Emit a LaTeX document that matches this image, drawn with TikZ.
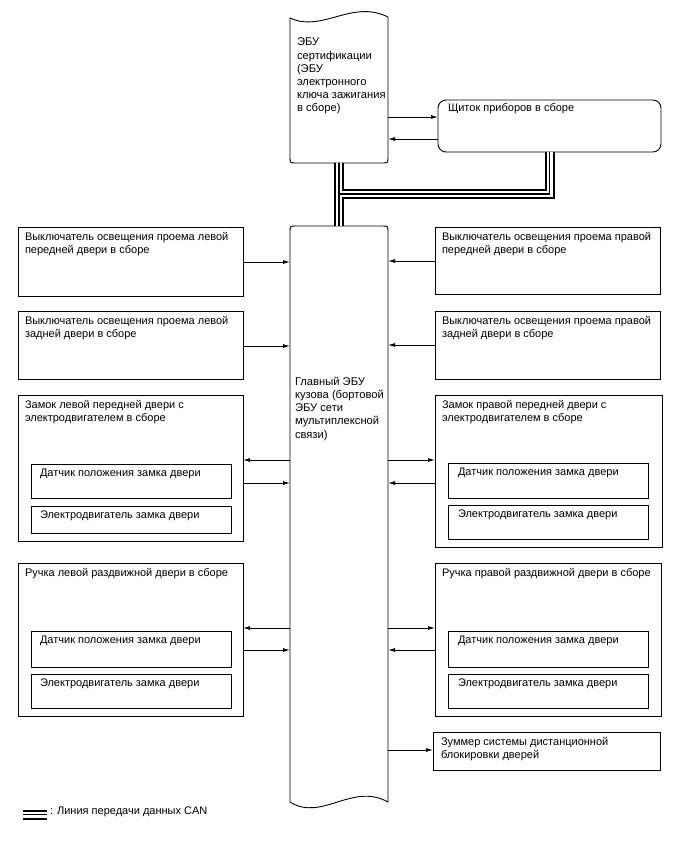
\documentclass[tikz,border=0pt]{standalone}
\usepackage{fontspec}
\setmainfont{Liberation Sans}
\usetikzlibrary{arrows.meta,calc}
\begin{document}
\begin{tikzpicture}[x=1pt,y=-1pt,
  box/.style={draw, line width=0.9pt, anchor=north west, inner sep=0, outer sep=0},
  ghost/.style={anchor=north west, inner sep=0, outer sep=0},
  txt/.style={anchor=north west, inner sep=0, outer sep=0, align=left, font=\fontsize{11}{13.2}\selectfont},
  etxt/.style={txt, font=\fontsize{11.2}{13.2}\selectfont},
  arr/.style={line width=0.9pt, -{Latex[length=7pt,width=4pt]}}]
\useasboundingbox (0,0) rectangle (688,852);

% certification ECU
\node[ghost, minimum width=98, minimum height=146] (cert) at (290,17) {};
\draw[line width=0.9pt] (290,18) .. controls (322,33) and (352,-1) .. (388,17)
  -- (388,157) .. controls (388,163) .. (382,163) -- (296,163)
  .. controls (290,163) .. (290,157) -- cycle;
\node[etxt] (certt) at (297,38) {ЭБУ\\сертификации\\(ЭБУ\\электронного\\ключа зажигания\\в сборе)};

% main body ECU
\node[ghost, minimum width=98, minimum height=576] (ecu) at (290,226) {};
\draw[line width=0.9pt] (290,802) -- (290,232) .. controls (290,226) .. (296,226)
  -- (382,226) .. controls (388,226) .. (388,232) -- (388,802)
  .. controls (352,782) and (322,822) .. (290,802);
\node[etxt] (ecut) at (295,377) {Главный ЭБУ\\кузова (бортовой\\ЭБУ сети\\мультиплексной\\связи)};

% instrument cluster
\node[box, rounded corners=8, minimum width=223, minimum height=52] (clu) at (438,100) {};
\node[txt] (clut) at (448,103.5) {Щиток приборов в сборе};
\draw[arr] (cert.east |- 0,117) -- (clu.west |- 0,117);
\draw[arr] (clu.west |- 0,139) -- (cert.east |- 0,139);

% CAN lines
\foreach \w/\c in {10/black,6/white,1.2/black}{
  \draw[line width=\w pt, \c] (cert.south) -- (ecu.north);
  \draw[line width=\w pt, \c, line join=miter] (clu.south) -- (clu.south |- 0,194) -- (cert.south |- 0,194);
}

% left side
\node[box, minimum width=225, minimum height=69] (l1) at (18,227) {};
\node[txt] (l1t) at (25,232.5) {Выключатель освещения проема левой\\передней двери в сборе};
\node[box, minimum width=225, minimum height=68] (l2) at (18,311) {};
\node[txt] (l2t) at (25,316.5) {Выключатель освещения проема левой\\задней двери в сборе};
\node[box, minimum width=225, minimum height=146] (l3) at (18,395) {};
\node[txt] (l3t) at (25,400.5) {Замок левой передней двери с\\электродвигателем в сборе};
\node[box, minimum width=200, minimum height=34] (l3a) at (31,464) {};
\node[txt] (l3at) at (40,469) {Датчик положения замка двери};
\node[box, minimum width=200, minimum height=27] (l3b) at (31,506) {};
\node[txt] (l3bt) at (40,511) {Электродвигатель замка двери};
\node[box, minimum width=225, minimum height=153] (l4) at (18,563) {};
\node[txt] (l4t) at (25,568.5) {Ручка левой раздвижной двери в сборе};
\node[box, minimum width=200, minimum height=36] (l4a) at (31,631) {};
\node[txt] (l4at) at (40,636) {Датчик положения замка двери};
\node[box, minimum width=200, minimum height=34] (l4b) at (31,674) {};
\node[txt] (l4bt) at (40,679) {Электродвигатель замка двери};

\draw[arr] (l1.east |- 0,262) -- (ecu.west |- 0,262);
\draw[arr] (l2.east |- 0,346) -- (ecu.west |- 0,346);
\draw[arr] (ecu.west |- 0,460) -- (l3.east |- 0,460);
\draw[arr] (l3.east |- 0,483) -- (ecu.west |- 0,483);
\draw[arr] (ecu.west |- 0,628) -- (l4.east |- 0,628);
\draw[arr] (l4.east |- 0,650) -- (ecu.west |- 0,650);

% right side
\node[box, minimum width=225, minimum height=67] (r1) at (435,227) {};
\node[txt] (r1t) at (442,232.5) {Выключатель освещения проема правой\\передней двери в сборе};
\node[box, minimum width=225, minimum height=68] (r2) at (435,311) {};
\node[txt] (r2t) at (442,316.5) {Выключатель освещения проема правой\\задней двери в сборе};
\node[box, minimum width=227, minimum height=152] (r3) at (435,395) {};
\node[txt] (r3t) at (442,400.5) {Замок правой передней двери с\\электродвигателем в сборе};
\node[box, minimum width=200, minimum height=35] (r3a) at (448,463) {};
\node[txt] (r3at) at (458,468) {Датчик положения замка двери};
\node[box, minimum width=200, minimum height=34] (r3b) at (448,505) {};
\node[txt] (r3bt) at (458,510) {Электродвигатель замка двери};
\node[box, minimum width=226, minimum height=153] (r4) at (435,563) {};
\node[txt] (r4t) at (442,568.5) {Ручка правой раздвижной двери в сборе};
\node[box, minimum width=200, minimum height=36] (r4a) at (448,631) {};
\node[txt] (r4at) at (458,636) {Датчик положения замка двери};
\node[box, minimum width=200, minimum height=34] (r4b) at (448,674) {};
\node[txt] (r4bt) at (458,679) {Электродвигатель замка двери};
\node[box, minimum width=227, minimum height=38] (r5) at (433,732) {};
\node[txt] (r5t) at (441,737) {Зуммер системы дистанционной\\блокировки дверей};

\draw[arr] (r1.west |- 0,261) -- (ecu.east |- 0,261);
\draw[arr] (r2.west |- 0,345) -- (ecu.east |- 0,345);
\draw[arr] (ecu.east |- 0,460) -- (r3.west |- 0,460);
\draw[arr] (r3.west |- 0,483) -- (ecu.east |- 0,483);
\draw[arr] (ecu.east |- 0,628) -- (r4.west |- 0,628);
\draw[arr] (r4.west |- 0,650) -- (ecu.east |- 0,650);
\draw[arr] (ecu.east |- 0,750) -- (r5.west |- 0,750);

% legend
\coordinate (lg1) at (23,814.5);
\coordinate (lg2) at (47,814.5);
\foreach \w/\c in {10/black,6/white,1.2/black}{
  \draw[line width=\w pt, \c] (lg1) -- (lg2);
}
\node[txt, anchor=west] (lgt) at (50,812) {: Линия передачи данных CAN};
\end{tikzpicture}
\end{document}
